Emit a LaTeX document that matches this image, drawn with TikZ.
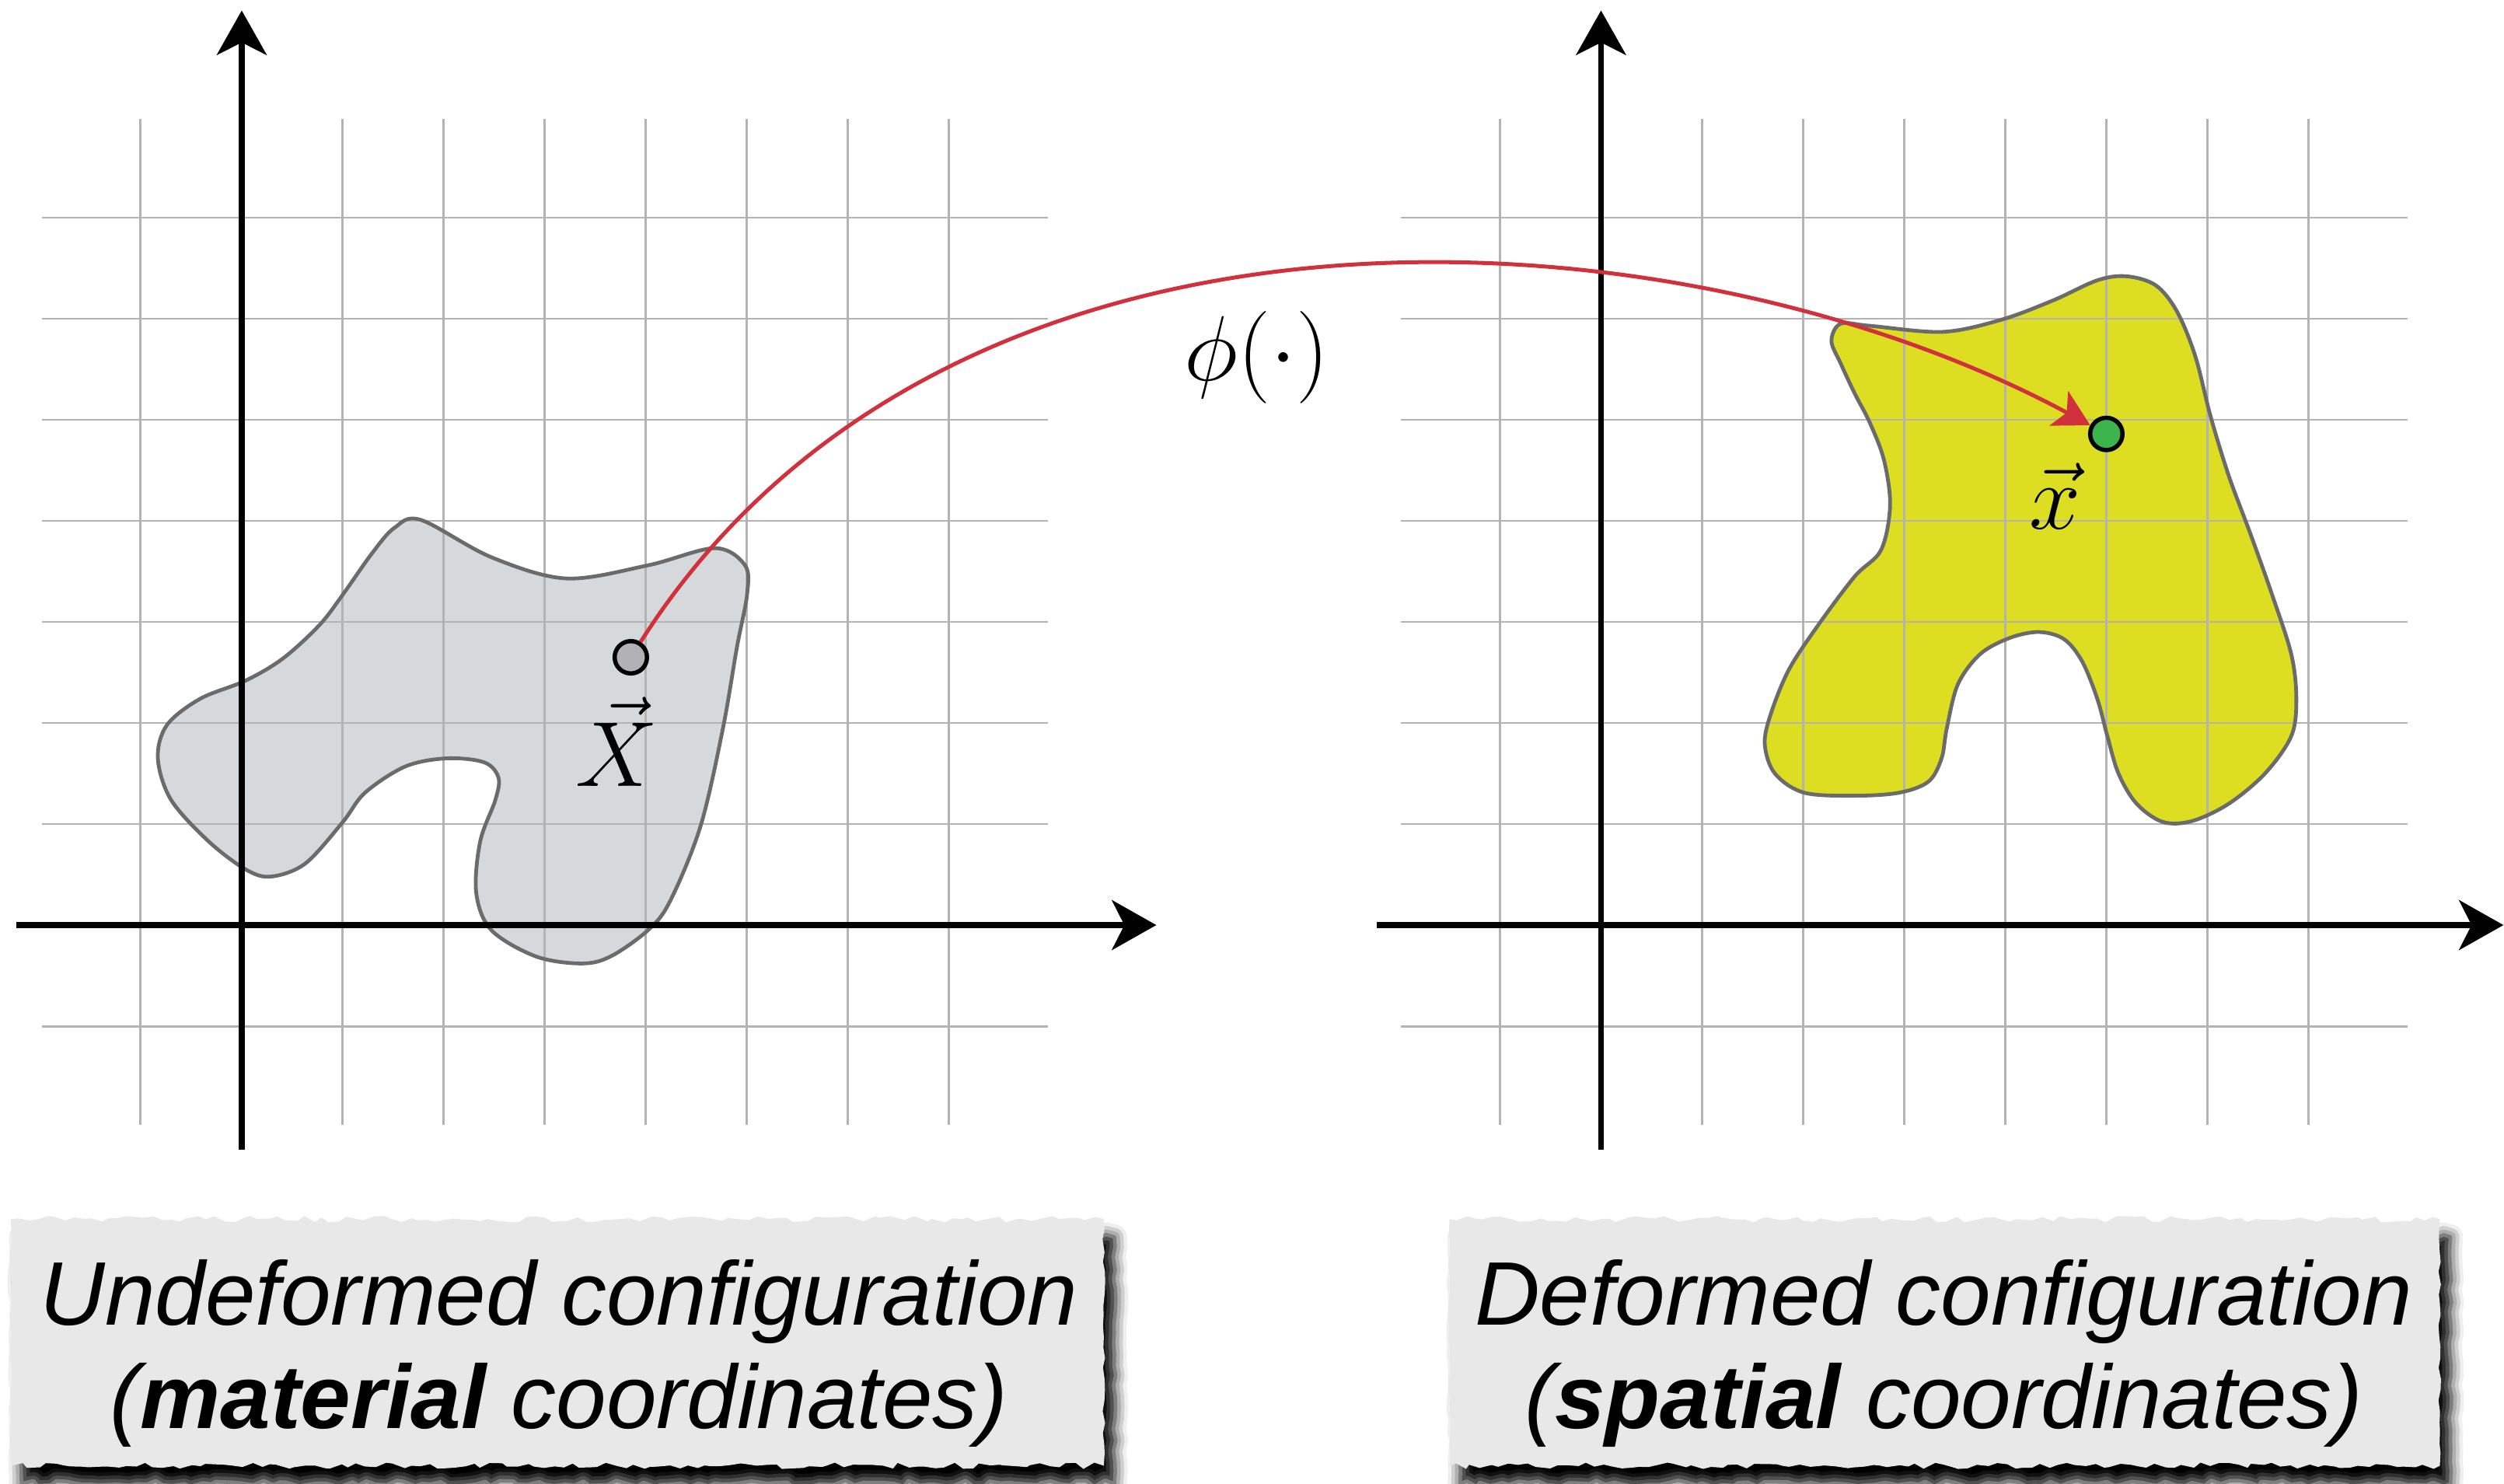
\documentclass[tikz,border=0pt]{standalone}
\usepackage{fontspec}
\setsansfont{Liberation Sans}
\usetikzlibrary{arrows.meta,shadows.blur,decorations.pathmorphing}
\definecolor{gridc}{HTML}{B3B3B3}
\definecolor{blobline}{HTML}{6B6B6B}
\definecolor{grayfill}{HTML}{D6D9DB}
\definecolor{yellowfill}{HTML}{DDDD22}
\definecolor{redc}{HTML}{D1313D}
\definecolor{paperc}{HTML}{E8E8E8}
\definecolor{ptgray}{HTML}{B2B2B6}
\definecolor{ptgreen}{HTML}{3CB44E}
\begin{document}
\begin{tikzpicture}[x=1cm,y=1cm,
  gridline/.style={draw=gridc, line width=0.65pt},
  axis/.style={line width=1.7pt, -{Stealth[length=12.5pt,width=14pt,inset=3.5pt]}},
  blob/.style={draw=blobline, line width=1.05pt},
  pt/.style={circle, draw=black, line width=1.2pt, minimum size=0.32cm, inner sep=0pt},
  mathlab/.style={font=\Huge, scale=1.045, inner sep=0pt, anchor=base},
  boxtext/.style={font=\fontsize{25.4}{29}\selectfont\sffamily\itshape, inner sep=0pt, anchor=base},
  paper/.style={fill=paperc, blur shadow={shadow xshift=3pt, shadow yshift=-5pt, shadow blur radius=3.5pt, shadow opacity=100}},
  tornh/.style={decorate, decoration={random steps, segment length=2.5pt, amplitude=0.9pt}},
  tornv/.style={decorate, decoration={random steps, segment length=3pt, amplitude=0.4pt}},
  redarrow/.style={draw=redc, line width=1.1pt, -{Stealth[length=10pt,width=11pt,inset=2.5pt]}},
]
\useasboundingbox (-2.392,-5.523) rectangle (22.385,9.154);
\pgfmathsetseed{7}

% ---------- left panel ----------
\path[save path=\blobL] plot[smooth cycle, tension=0.55] coordinates {
 (1.77,4.01) (2.47,3.64) (3.21,3.43) (4.02,3.56) (4.68,3.73) (4.98,3.56) (5.0,3.27)
 (4.90,2.75) (4.76,1.94) (4.54,0.98) (4.24,0.24) (4.02,-0.05) (3.65,-0.31) (3.36,-0.38)
 (2.91,-0.31) (2.47,-0.05) (2.32,0.32) (2.36,0.83) (2.51,1.24) (2.54,1.46) (2.40,1.61)
 (2.03,1.65) (1.62,1.57) (1.22,1.31) (1.0,1.02) (0.63,0.61) (0.29,0.48) (0.04,0.55)
 (-0.33,0.83) (-0.70,1.24) (-0.83,1.65) (-0.74,1.98) (-0.41,2.24) (0.04,2.42)
 (0.41,2.64) (0.77,2.97) (1.0,3.27) (1.29,3.68) (1.51,3.93)};
\fill[grayfill, use path=\blobL];
\draw[gridline] (-1.98,-1.98) grid (7.98,7.98);
\draw[blob, use path=\blobL];
\coordinate (LxS) at (-2.23,0);
\coordinate (LxE) at (9.05,0);
\coordinate (LyS) at (0,-2.22);
\coordinate (LyE) at (0,9.05);
\draw[axis] (LxS) -- (LxE);
\draw[axis] (LyS) -- (LyE);
\node[pt, fill=ptgray] (X) at (3.85,2.65) {};
\node[mathlab] (Xlab) at (3.71,1.37) {$\vec{X}$};

% ---------- right panel ----------
\begin{scope}[xshift=13.45cm]
\path[save path=\blobR] plot[smooth cycle, tension=0.55] coordinates {
 (2.37,5.95) (2.66,5.93) (3.38,5.87) (3.96,5.99) (4.47,6.18) (4.91,6.38) (5.20,6.42)
 (5.49,6.33) (5.70,6.07) (5.88,5.63) (6.03,5.04) (6.21,4.45) (6.43,3.86) (6.64,3.27)
 (6.83,2.68) (6.88,2.24) (6.83,1.87) (6.57,1.50) (6.21,1.20) (5.85,1.03) (5.56,1.02)
 (5.30,1.20) (5.12,1.50) (5.01,1.87) (4.91,2.24) (4.76,2.61) (4.58,2.83) (4.33,2.90)
 (4.04,2.84) (3.75,2.68) (3.53,2.38) (3.42,1.94) (3.37,1.65) (3.24,1.42) (2.95,1.31)
 (2.51,1.28) (2.01,1.31) (1.72,1.50) (1.62,1.79) (1.68,2.09) (1.86,2.53) (2.15,2.97)
 (2.51,3.45) (2.77,3.71) (2.86,4.15) (2.80,4.60) (2.66,4.97) (2.51,5.26) (2.37,5.56)
 (2.28,5.78)};
\fill[yellowfill, use path=\blobR];
\draw[gridline] (-1.98,-1.98) grid (7.98,7.98);
\draw[blob, use path=\blobR];
\coordinate (RxS) at (-2.22,0);
\coordinate (RxE) at (8.93,0);
\coordinate (RyS) at (0,-2.22);
\coordinate (RyE) at (0,9.05);
\draw[axis] (RxS) -- (RxE);
\draw[axis] (RyS) -- (RyE);
\node[pt, fill=ptgreen] (x) at (5.0,4.86) {};
\node[mathlab] (xlab) at (4.49,3.92) {$\vec{x}$};
\end{scope}

% ---------- mapping ----------
\draw[redarrow] (X) .. controls (7.0,7.6) and (14.2,7.15) .. (x);
\node[mathlab] (phi) at (10.04,5.39) {$\phi(\cdot)$};

% ---------- labels ----------
\path[paper] (-2.285,-2.91) decorate[tornh]{-- (8.53,-2.91)} decorate[tornv]{-- (8.53,-5.35)}
  decorate[tornh]{-- (-2.285,-5.35)} decorate[tornv]{-- (-2.285,-2.91)} -- cycle;
\path[paper] (11.95,-2.91) decorate[tornh]{-- (21.75,-2.91)} decorate[tornv]{-- (21.75,-5.35)}
  decorate[tornh]{-- (11.95,-5.35)} decorate[tornv]{-- (11.95,-2.91)} -- cycle;
\node[boxtext] (L1) at (3.14,-3.96) {Undeformed configuration};
\node[boxtext] (L2) at (3.14,-4.98) {(\textbf{material} coordinates)};
\node[boxtext] (R1) at (16.84,-3.96) {Deformed configuration};
\node[boxtext] (R2) at (16.84,-4.98) {(\textbf{spatial} coordinates)};
\end{tikzpicture}
\end{document}
